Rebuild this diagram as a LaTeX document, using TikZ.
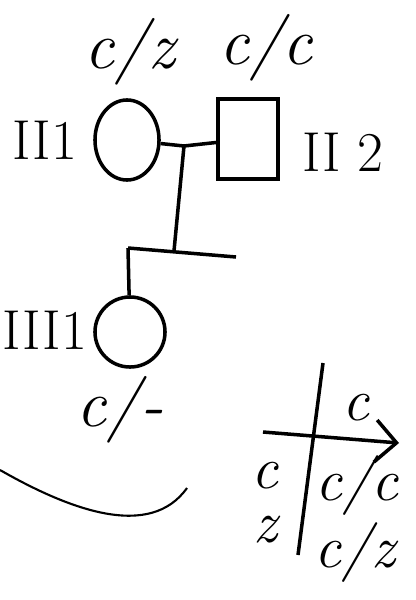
\documentclass[tikz,border=0pt]{standalone}
\usetikzlibrary{shapes.geometric,arrows.meta}
\begin{document}
\begin{tikzpicture}[x=0.01cm,y=-0.01cm,line width=1pt,
  geno/.style={font=\fontsize{19}{21}\selectfont\itshape, inner sep=1pt},
  pgeno/.style={font=\fontsize{17}{19}\selectfont\itshape, inner sep=0pt},
  gen/.style={font=\fontsize{16}{18}\selectfont, inner sep=1pt}]
\useasboundingbox (0,0) rectangle (415,600);
\node[draw, ellipse, minimum width=0.64cm, minimum height=0.80cm, inner sep=0pt] (f1) at (127,140) {};
\node[draw, rectangle, minimum width=0.60cm, minimum height=0.80cm, inner sep=0pt] (m2) at (248,139) {};
\node[draw, circle, minimum size=0.70cm, inner sep=0pt] (c1) at (130,332) {};
\node[gen] (lf1) at (45,140) {II1};
\node[gen] (lm2) at (343,152) {II 2};
\node[gen] (lc1) at (45,330) {III1};
\node[geno] (gf1) at (130,52) {c/z};
\node[geno] (gm2) at (266,48) {c/c};
\node[geno] (gc1) at (120,410) {c/-};
\coordinate (mate) at (184,146);
\coordinate (sibL) at (128,248);
\coordinate (sibM) at (174,251);
\coordinate (sibR) at (236,257);
\draw (f1) -- (mate) -- (m2);
\draw (mate) -- (sibM);
\draw (sibL) -- (sibR);
\draw (sibL) -- (c1);
\draw[line width=0.6pt] (0,470) .. controls (70,510) and (150,540) .. (187,488);
% punnett square
\node[pgeno] (pc1) at (356,408) {c};
\node[pgeno] (pc2) at (265,476) {c};
\node[pgeno] (pz) at (265,530) {z};
\node[pgeno] (pcc) at (357,486) {c/c};
\node[pgeno] (pcz) at (355,553) {c/z};
\coordinate (vt) at (323,363);
\coordinate (vb) at (298,555);
\coordinate (hl) at (263,432);
\coordinate (hr) at (399,443);
\draw (vt) -- (vb);
\draw[-{Straight Barb[length=6pt]}] (hl) -- (hr);
\end{tikzpicture}
\end{document}
